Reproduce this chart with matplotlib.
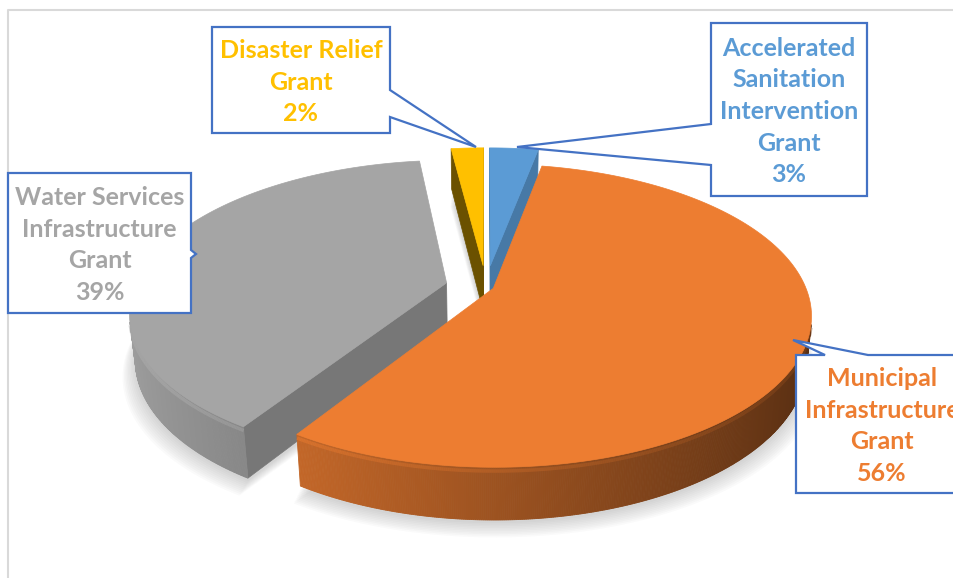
import numpy as np
import matplotlib.pyplot as plt
from matplotlib.patches import Polygon
from matplotlib.colors import to_rgb

# grant shares, clockwise from 12 o'clock
labels = ["Accelerated\nSanitation\nIntervention\nGrant",
          "Municipal\nInfrastructure\nGrant",
          "Water Services\nInfrastructure\nGrant",
          "Disaster Relief\nGrant"]
shares = [3, 56, 39, 2]
colors = ["#5B9BD5", "#ED7D31", "#A5A5A5", "#FFC000"]
explode = [0.15, 0.025, 0.13, 0.15]
cut_shade = [0.78, 0.55, 0.72, 0.42]

# callout boxes (x0, y0, x1, y1), pointer side, pointer base, pointer tip
boxes = [(711, 23, 867, 196), (796, 355, 968, 493), (8, 173, 191, 313), (212, 27, 390, 133)]
pointer_side = ["left", "top", "right", "right"]
pointer_base = [(124, 165), (825, 868), (250, 258), (90, 117)]
pointer_tip = [(517, 147), (793, 340), (196, 254), (476, 147)]

# projection of the tilted pie (pixel space)
CX, CY = 486, 287
F = 1530
D = 4.9
ELEV = np.radians(27.9)
H = 0.17


def project(X, Y, Z):
    se, ce = np.sin(ELEV), np.cos(ELEV)
    depth = D + Y * ce - Z * se
    sy = Y * se + Z * ce
    return np.column_stack([CX + F * X / depth, CY - F * sy / depth])


def faces_camera(px, py, pz, nx, ny, nz):
    cam = np.array([0, -D * np.cos(ELEV), D * np.sin(ELEV)])
    v = cam - np.array([px, py, pz])
    return nx * v[0] + ny * v[1] + nz * v[2] > 0


def shade(color, f):
    return tuple(np.clip(np.array(to_rgb(color)) * f, 0, 1))


fig = plt.figure(figsize=(9.54, 5.78), dpi=100)
ax = fig.add_axes([0, 0, 1, 1])
ax.set_xlim(0, 954)
ax.set_ylim(578, 0)
ax.axis("off")

# chart frame
ax.plot([8, 8, 954], [578, 10, 10], color="#d9d9d9", lw=1.5, zorder=0)

bounds = np.concatenate([[0], np.cumsum(shares)]) / sum(shares) * 2 * np.pi
slices = []
for i, s in enumerate(shares):
    t0, t1 = bounds[i], bounds[i + 1]
    tm = (t0 + t1) / 2
    ox, oy = explode[i] * np.sin(tm), explode[i] * np.cos(tm)
    th = np.linspace(t0, t1, max(4, int(s * 3)))
    slices.append((i, t0, t1, ox, oy, th))

# soft shadow under the pie
for k in range(10):
    for i, t0, t1, ox, oy, th in slices:
        X = np.concatenate([[ox], ox + np.sin(th)])
        Y = np.concatenate([[oy], oy + np.cos(th)])
        pts = project(X, Y, np.full(len(X), -H))
        pts[:, 1] += 3 + k * 1.6
        pts[:, 0] += (pts[:, 0] - CX) * 0.004 * k
        ax.add_patch(Polygon(pts, closed=True, fc="#7f7f7f", ec="none",
                             alpha=0.035, zorder=1))

# side walls, far slices first
order = sorted(slices, key=lambda s: -(s[4] + 0.5 * np.mean(np.cos(s[5]))))
for i, t0, t1, ox, oy, th in order:
    col = colors[i]
    # radial cut faces
    for t, sgn in ((t0, -1), (t1, 1)):
        nx, ny = sgn * np.cos(t), -sgn * np.sin(t)
        mx, my = ox + 0.5 * np.sin(t), oy + 0.5 * np.cos(t)
        if faces_camera(mx, my, -H / 2, nx, ny, 0):
            X = np.array([ox, ox + np.sin(t), ox + np.sin(t), ox])
            Y = np.array([oy, oy + np.cos(t), oy + np.cos(t), oy])
            Z = np.array([0, 0, -H, -H])
            c = shade(col, cut_shade[i])
            ax.add_patch(Polygon(project(X, Y, Z), closed=True, fc=c, ec=c,
                                 lw=0.5, zorder=2))
    # curved outer wall, lit from the left
    fine = np.linspace(t0, t1, max(8, int(len(th) * 4)))
    for a, b in zip(fine[:-1], fine[1:]):
        m = (a + b) / 2
        if not faces_camera(ox + np.sin(m), oy + np.cos(m), -H / 2,
                            np.sin(m), np.cos(m), 0):
            continue
        X = ox + np.sin([a, b, b, a])
        Y = oy + np.cos([a, b, b, a])
        Z = np.array([0, 0, -H, -H])
        f = np.clip(0.66 - 0.3 * np.sin(m), 0.36, 0.95)
        c = shade(col, f)
        ax.add_patch(Polygon(project(X, Y, Z), closed=True, fc=c, ec=c,
                             lw=0.6, zorder=2))
        # rounded top edge of the wall catches a little light
        edge = project(X[:2], Y[:2], np.array([-0.012, -0.012]))
        ax.plot(edge[:, 0], edge[:, 1], color=shade(col, min(f + 0.15, 1.05)),
                lw=2.5, alpha=0.6, zorder=2.2, solid_capstyle="butt")

# top faces
for i, t0, t1, ox, oy, th in slices:
    X = np.concatenate([[ox], ox + np.sin(th)])
    Y = np.concatenate([[oy], oy + np.cos(th)])
    pts = project(X, Y, np.zeros(len(X)))
    ax.add_patch(Polygon(pts, closed=True, fc=colors[i], ec=colors[i],
                         lw=0.5, zorder=3))

# data callouts
for i, (x0, y0, x1, y1) in enumerate(boxes):
    b0, b1 = pointer_base[i]
    tip = pointer_tip[i]
    side = pointer_side[i]
    if side == "right":
        verts = [(x0, y0), (x1, y0), (x1, b0), tip, (x1, b1), (x1, y1), (x0, y1)]
    elif side == "left":
        verts = [(x0, y0), (x1, y0), (x1, y1), (x0, y1), (x0, b1), tip, (x0, b0)]
    else:
        verts = [(x0, y0), (b0, y0), tip, (b1, y0), (x1, y0), (x1, y1), (x0, y1)]
    ax.add_patch(Polygon(verts, closed=True, fc="white", ec="#4472C4",
                         lw=1.6, zorder=5))
    pct = round(shares[i] / sum(shares) * 100)
    tx = (x0 + x1) / 2 if side != "top" else 882
    ax.text(tx, (y0 + y1) / 2 + 2, f"{labels[i]}\n{pct}%",
            ha="center", va="center", color=colors[i], fontsize=18,
            fontweight="bold", family="Lato", linespacing=1.45, zorder=6)

fig.savefig("out.png", dpi=100)
